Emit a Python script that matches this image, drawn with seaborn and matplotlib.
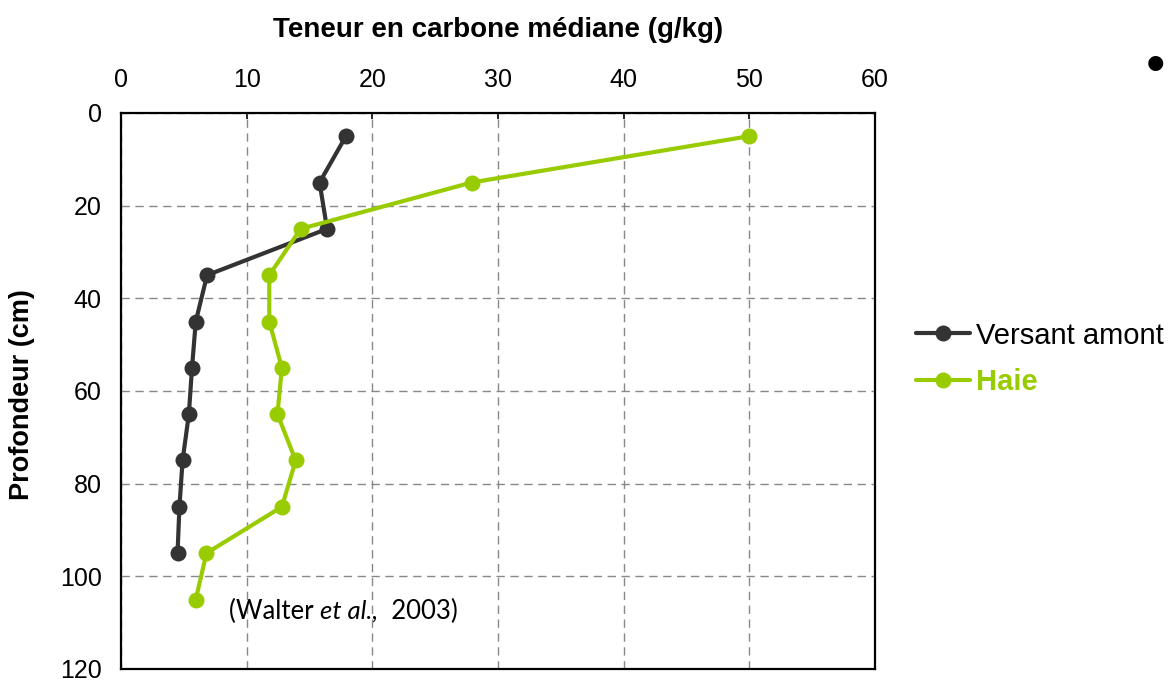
import matplotlib
matplotlib.use("Agg")
import matplotlib.pyplot as plt
import seaborn as sns
import pandas as pd
from matplotlib.lines import Line2D
from matplotlib import transforms

# ---- data ----
depth_versant = [5, 15, 25, 35, 45, 55, 65, 75, 85, 95]
carbon_versant = [17.9, 15.8, 16.4, 6.85, 5.95, 5.65, 5.4, 4.9, 4.65, 4.5]
depth_haie = [5, 15, 25, 35, 45, 55, 65, 75, 85, 95, 105]
carbon_haie = [50.0, 27.9, 14.3, 11.8, 11.8, 12.8, 12.45, 13.9, 12.8, 6.8, 5.95]
series_names = ["Versant amont", "Haie"]
x_ticks = [0, 10, 20, 30, 40, 50, 60]
y_ticks = [0, 20, 40, 60, 80, 100, 120]

dark = "#333333"
green = "#99CC00"

df = pd.concat([
    pd.DataFrame({"carbon": carbon_versant, "depth": depth_versant, "serie": series_names[0]}),
    pd.DataFrame({"carbon": carbon_haie, "depth": depth_haie, "serie": series_names[1]}),
], ignore_index=True)

sns.set_theme(style="white")
plt.rcParams["font.family"] = ["Liberation Sans", "DejaVu Sans"]
plt.rcParams["text.color"] = "black"
plt.rcParams["axes.labelcolor"] = "black"
plt.rcParams["xtick.color"] = "black"
plt.rcParams["ytick.color"] = "black"

fig = plt.figure(figsize=(11.71, 6.83), dpi=100)
ax = fig.add_axes([121 / 1171, 1 - 669 / 683, (875 - 121) / 1171, (669 - 113) / 683])

sns.lineplot(data=df, x="carbon", y="depth", hue="serie", estimator=None, sort=False,
             palette={series_names[0]: dark, series_names[1]: green},
             marker="o", markersize=11.5, markeredgewidth=0, linewidth=3,
             legend=False, ax=ax, zorder=3)

ax.set_xlim(0, 60)
ax.set_ylim(120, 0)
ax.set_xticks(x_ticks)
ax.set_yticks(y_ticks)
ax.xaxis.tick_top()
ax.xaxis.set_label_position("top")
ax.tick_params(axis="both", labelsize=18, colors="black", length=4.5, width=1.2,
               direction="in")
ax.tick_params(axis="x", pad=15)
ax.tick_params(axis="y", pad=14)

ax.grid(True, linestyle=(0, (6, 4)), color="#888888", linewidth=1.0)
for s in ax.spines.values():
    s.set_color("black")
    s.set_linewidth(1.6)

ax.set_xlabel("")
ax.set_ylabel("")
fig.text(498 / 1171, 1 - 30 / 683, "Teneur en carbone médiane (g/kg)", ha="center", va="center",
         fontsize=20, fontweight="bold")
fig.text(22 / 1171, 1 - 395 / 683, "Profondeur (cm)", ha="center", va="center",
         rotation=90, fontsize=19.5, fontweight="bold")

cite_fam = ["Lato", "DejaVu Sans"]
c1 = ax.text(8.6, 107.5, "(Walter ", fontsize=18.5, family=cite_fam, va="center", ha="left")
fig.canvas.draw()
r = fig.canvas.get_renderer()
bb = c1.get_window_extent(renderer=r)
tr = transforms.offset_copy(c1.get_transform(), fig=fig, x=bb.width, units="dots")
c2 = ax.text(8.6, 107.5, "et al.,", fontsize=18.5, family=cite_fam, style="italic",
             va="center", ha="left", transform=tr)
bb2 = c2.get_window_extent(renderer=r)
tr2 = transforms.offset_copy(c1.get_transform(), fig=fig, x=bb.width + bb2.width, units="dots")
ax.text(8.6, 107.5, "  2003)", fontsize=18.5, family=cite_fam, va="center", ha="left",
        transform=tr2)

handles = [Line2D([], [], color=dark, marker="o", markersize=11.5, markeredgewidth=0, linewidth=3),
           Line2D([], [], color=green, marker="o", markersize=11.5, markeredgewidth=0, linewidth=3)]
leg = fig.legend(handles, series_names, loc="center left", bbox_to_anchor=(916 / 1171, 1 - 359 / 683),
                 frameon=False, fontsize=21, handlelength=1.85, handletextpad=0.2, labelspacing=0.65,
                 borderaxespad=0, borderpad=0)
leg.get_texts()[1].set_color(green)
leg.get_texts()[1].set_fontweight("bold")

fig.text(1155 / 1171, 1 - 68 / 683, "•", ha="center", va="center", fontsize=40)

fig.savefig("out.png", dpi=100)
